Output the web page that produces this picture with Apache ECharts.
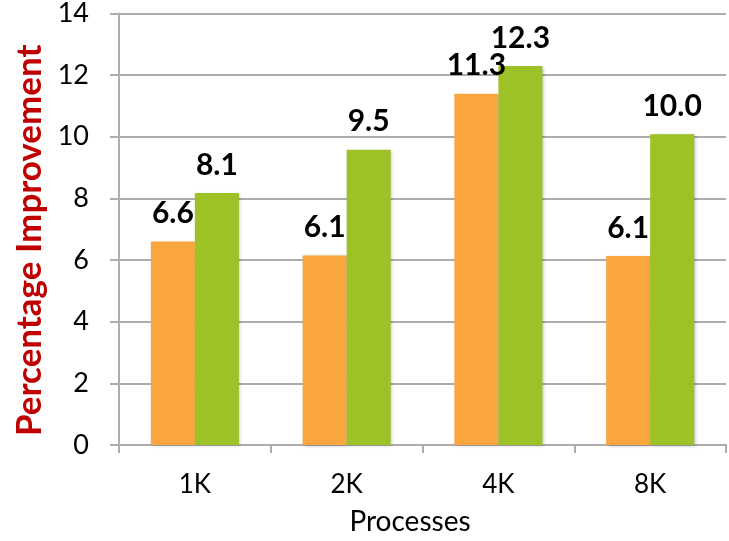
<!DOCTYPE html>
<html><head><meta charset="utf-8">
<script src="https://cdn.jsdelivr.net/npm/echarts@6/dist/echarts.min.js"></script>
<style>html,body{margin:0;padding:0;background:#fff}#c{width:729px;height:541px}</style>
</head><body><div id="c"></div>
<script>
var categories = ['1K', '2K', '4K', '8K'];
var seriesA = [6.6, 6.15, 11.4, 6.13];
var seriesB = [8.18, 9.58, 12.3, 10.08];
var labelsA = ['6.6', '6.1', '11.3', '6.1'];
var labelsB = ['8.1', '9.5', '12.3', '10.0'];
var yTicks = [0, 2, 4, 6, 8, 10, 12, 14];

var chart = echarts.init(document.getElementById('c'));
var font = 'Lato';
var gridColor = '#ADADAD';
function barSeries(name, vals, labels, color) {
  return {
    name: name, type: 'bar', data: vals,
    barGap: '0%', barCategoryGap: '42%',
    itemStyle: {color: color, shadowBlur: 3, shadowColor: 'rgba(0,0,0,0.25)', shadowOffsetX: 1.5, shadowOffsetY: 1},
    label: {show: true, position: 'top', distance: 13,
      fontFamily: font, fontWeight: 'bold', fontSize: 30, color: '#000',
      formatter: function (p) { return labels[p.dataIndex]; }}
  };
}
chart.setOption({
  animation: false,
  grid: {left: 119, right: 3, top: 13, bottom: 94},
  xAxis: {
    type: 'category', data: categories,
    name: 'Processes', nameLocation: 'middle', nameGap: 63,
    nameTextStyle: {fontFamily: font, fontSize: 28, color: '#000', padding: [0, 25, 0, 0]},
    axisLine: {lineStyle: {color: gridColor, width: 2}},
    axisTick: {show: true, length: 8, lineStyle: {color: gridColor, width: 2}},
    axisLabel: {fontFamily: font, fontSize: 26, color: '#000', margin: 27}
  },
  yAxis: {
    type: 'value', min: yTicks[0], max: yTicks[yTicks.length - 1], interval: 2,
    name: 'Percentage Improvement', nameLocation: 'middle', nameGap: 61, nameRotate: 90,
    nameTextStyle: {fontFamily: font, fontSize: 35, fontWeight: 'bold', color: '#C00000', padding: [0, 0, 0, -22]},
    axisLine: {show: true, lineStyle: {color: gridColor, width: 2}},
    axisTick: {show: true, length: 9, lineStyle: {color: gridColor, width: 2}},
    splitLine: {lineStyle: {color: gridColor, width: 2}},
    axisLabel: {fontFamily: font, fontSize: 27, color: '#000', margin: 30}
  },
  series: [
    barSeries('A', seriesA, labelsA, '#FAA63F'),
    barSeries('B', seriesB, labelsB, '#9CC225')
  ]
});
</script></body></html>
